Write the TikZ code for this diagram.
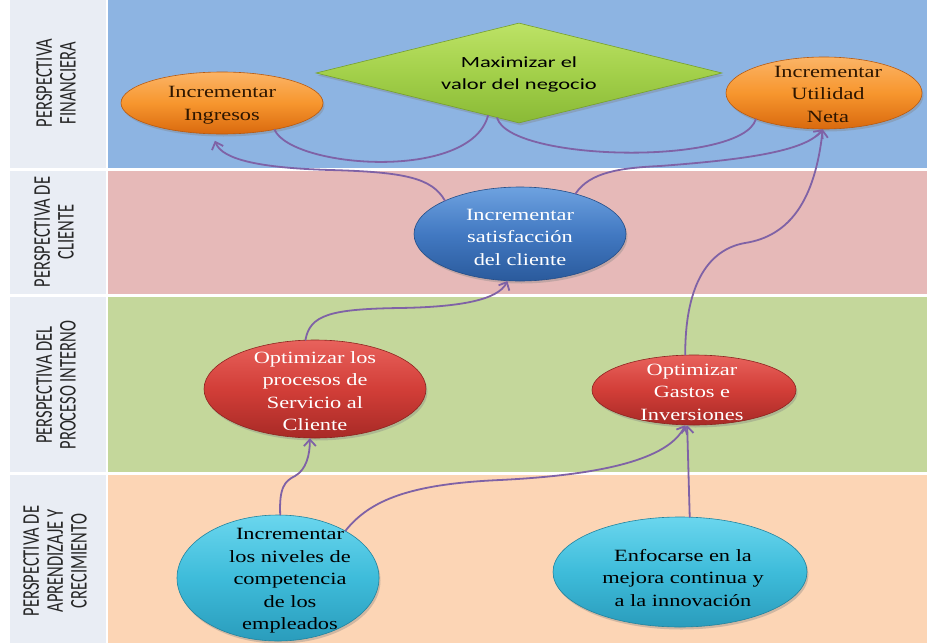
\documentclass[tikz,border=0pt]{standalone}
\usepackage{fontspec}
\usepackage{graphicx}
\usetikzlibrary{shapes.geometric,arrows.meta,shadows}
\newfontfamily\ellfont[FakeStretch=1.3]{Liberation Serif}
\newfontfamily\diafont[FakeStretch=1.45]{Carlito}
\newfontfamily\labfont{Carlito}
\definecolor{bandblue}{HTML}{8DB4E2}
\definecolor{bandpink}{HTML}{E6B9B8}
\definecolor{bandgreen}{HTML}{C4D79B}
\definecolor{bandpeach}{HTML}{FCD5B5}
\definecolor{colgray}{HTML}{E9EDF4}
\definecolor{purp}{HTML}{7F62A6}
\definecolor{orgtop}{HTML}{FBB466}
\definecolor{orgmid}{HTML}{F7962E}
\definecolor{orgbot}{HTML}{D9690E}
\definecolor{orgdraw}{HTML}{B85A10}
\definecolor{blutop}{HTML}{6EA2E0}
\definecolor{blumid}{HTML}{4279C2}
\definecolor{blubot}{HTML}{2A5A9C}
\definecolor{bludraw}{HTML}{244E88}
\definecolor{redtop}{HTML}{E8625C}
\definecolor{redmid}{HTML}{D23E38}
\definecolor{redbot}{HTML}{A82A26}
\definecolor{reddraw}{HTML}{8E2420}
\definecolor{cyntop}{HTML}{6AD6EE}
\definecolor{cynmid}{HTML}{3EBCDA}
\definecolor{cynbot}{HTML}{2A9CBC}
\definecolor{cyndraw}{HTML}{22849F}
\definecolor{grntop}{HTML}{BDE266}
\definecolor{grnmid}{HTML}{A3D04A}
\definecolor{grnbot}{HTML}{8ABA36}
\definecolor{grndraw}{HTML}{76A02C}
\definecolor{labtext}{HTML}{262626}
\definecolor{orgtext}{HTML}{2E1600}
\begin{document}
\begin{tikzpicture}[x=1pt,y=-1pt,
  lab/.style={inner sep=0pt, text=labtext},
  ell/.style={ellipse, inner sep=0pt, line width=0.6pt,
    drop shadow={opacity=0.35, shadow xshift=1.5pt, shadow yshift=-2.5pt}},
  orangeell/.style={ell, draw=orgdraw, top color=orgtop, bottom color=orgbot, middle color=orgmid},
  blueell/.style={ell, draw=bludraw, top color=blutop, bottom color=blubot, middle color=blumid},
  redell/.style={ell, draw=reddraw, top color=redtop, bottom color=redbot, middle color=redmid},
  cyanell/.style={ell, draw=cyndraw, top color=cyntop, bottom color=cynbot, middle color=cynmid},
  etxt/.style={align=center, inner sep=0pt, font=\ellfont\fontsize{17.2}{22.5}\selectfont},
  link/.style={draw=purp, line width=1.8pt, line cap=round},
  arr/.style={link, -{Straight Barb[length=6.5pt,width=12pt]}}
]
\useasboundingbox (0,0) rectangle (927,643);
\fill[white] (0,0) rectangle (927,643);
% label column
\fill[colgray] (10,0) rectangle (106,168);
\fill[colgray] (10,171) rectangle (106,294);
\fill[colgray] (10,297) rectangle (106,472);
\fill[colgray] (10,475) rectangle (106,643);
% bands
\fill[bandblue] (108,0) rectangle (927,168);
\fill[bandpink] (108,171) rectangle (927,294);
\fill[bandgreen] (108,297) rectangle (927,472);
\fill[bandpeach] (108,475) rectangle (927,643);
% labels
\node[lab] (l1) at (59,83) {\rotatebox{90}{\scalebox{1}[1.45]{\labfont\fontsize{16.5}{16.5}\selectfont\begin{tabular}{@{}c@{}}PERSPECTIVA\\FINANCIERA\end{tabular}}}};
\node[lab] (l2) at (57,232) {\rotatebox{90}{\scalebox{1}[1.45]{\labfont\fontsize{16.5}{16.5}\selectfont\begin{tabular}{@{}c@{}}PERSPECTIVA DE\\CLIENTE\end{tabular}}}};
\node[lab] (l3) at (59,385) {\rotatebox{90}{\scalebox{1}[1.45]{\labfont\fontsize{16.5}{16.5}\selectfont\begin{tabular}{@{}c@{}}PERSPECTIVA DEL\\PROCESO INTERNO\end{tabular}}}};
\node[lab] (l4) at (58,561) {\rotatebox{90}{\scalebox{1}[1.45]{\labfont\fontsize{16.5}{16.5}\selectfont\begin{tabular}{@{}c@{}}PERSPECTIVA DE\\APRENDIZAJE Y\\CRECIMIENTO\end{tabular}}}};
% shapes
\node[diamond, inner sep=0pt, minimum width=406pt, minimum height=100pt, line width=0.6pt,
  draw=grndraw, top color=grntop, bottom color=grnbot, middle color=grnmid,
  drop shadow={opacity=0.35, shadow xshift=1.5pt, shadow yshift=-2.5pt}] (dia) at (519,73) {};
\node[orangeell, minimum width=202pt, minimum height=62pt] (ing) at (222,103) {};
\node[orangeell, minimum width=196pt, minimum height=72pt] (util) at (824,93) {};
\node[blueell, minimum width=212pt, minimum height=94pt] (sat) at (520,234) {};
\node[redell, minimum width=222pt, minimum height=98pt] (proc) at (315,389) {};
\node[redell, minimum width=204pt, minimum height=70pt] (gast) at (694,390) {};
\node[cyanell, minimum width=202pt, minimum height=126pt] (comp) at (278,578) {};
\node[cyanell, minimum width=254pt, minimum height=110pt] (enf) at (680,572) {};
% texts
\node[align=center, inner sep=0pt, font=\diafont\fontsize{15.5}{22}\selectfont, text=black] (diaT) at (519,74) {Maximizar el\\valor del negocio};
\node[etxt, text=orgtext] (ingT) at (222,105) {Incrementar\\Ingresos};
\node[etxt, text=orgtext] (utilT) at (828,94) {Incrementar\\Utilidad\\Neta};
\node[etxt, text=white] (satT) at (520,237) {Incrementar\\satisfacción\\del cliente};
\node[etxt, text=white] (procT) at (315,391) {Optimizar los\\procesos de\\Servicio al\\Cliente};
\node[etxt, text=white] (gastT) at (692,392) {Optimizar\\Gastos e\\Inversiones};
\node[etxt, text=black] (compT) at (290,581) {Incrementar\\los niveles de\\competencia\\de los\\empleados};
\node[etxt, text=black] (enfT) at (683,578) {Enfocarse en la\\mejora continua y\\a la innovación};
% connectors
\draw[link] (ing.-27) .. controls (292,168) and (470,182) .. (dia.-126);
\draw[link] (dia.-116) .. controls (510,162) and (742,166) .. (util.-159);
\draw[arr, shorten >=7pt] (sat.156) .. controls (432,178) and (405,172) .. (330,170) .. controls (262,168) and (222,160) .. (ing.-107);
\draw[arr] (sat.36) .. controls (590,172) and (620,168) .. (660,166) .. controls (740,160) and (805,152) .. (util.-92);
\draw[arr] (gast.104) .. controls (685,290) and (705,250) .. (745,243) .. controls (790,236) and (815,200) .. (util.-92);
\draw[arr] (proc.101) .. controls (310,315) and (330,309) .. (400,308) .. controls (460,307) and (498,300) .. (sat.-105);
\draw[arr] (comp.88) .. controls (279,487) and (285,481) .. (295,476) .. controls (306,470) and (310,455) .. (proc.-96);
\draw[arr] (comp.35) .. controls (370,500) and (410,484) .. (500,480) .. controls (600,475) and (668,460) .. (gast.-104);
\draw[arr] (enf.80) -- (gast.-101);
\end{tikzpicture}
\end{document}
